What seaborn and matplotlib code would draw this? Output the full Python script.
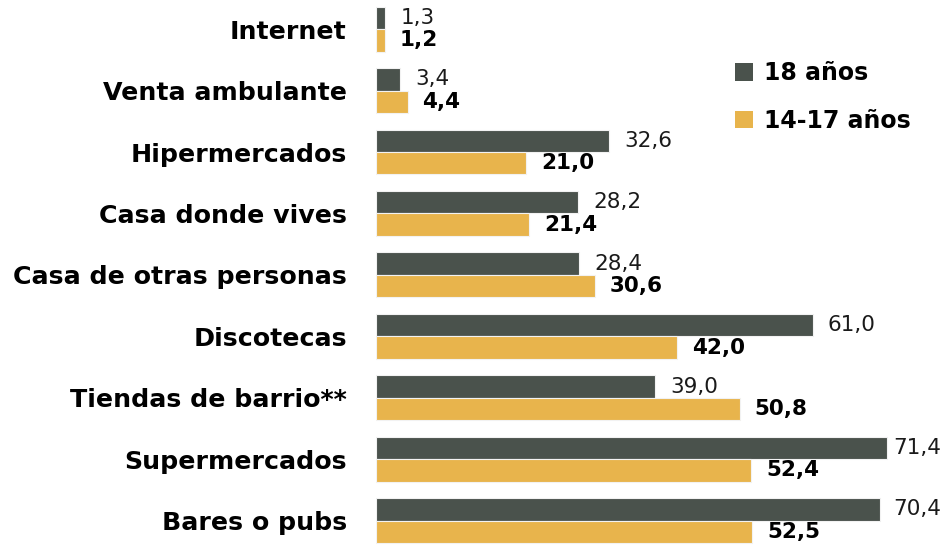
import pandas as pd
import seaborn as sns
import matplotlib.pyplot as plt
from matplotlib.patches import Patch

categories = ["Internet", "Venta ambulante", "Hipermercados", "Casa donde vives",
              "Casa de otras personas", "Discotecas", "Tiendas de barrio**",
              "Supermercados", "Bares o pubs"]
series_names = ["18 años", "14-17 años"]
vals_18 = [1.3, 3.4, 32.6, 28.2, 28.4, 61.0, 39.0, 71.4, 70.4]
vals_14_17 = [1.2, 4.4, 21.0, 21.4, 30.6, 42.0, 50.8, 52.4, 52.5]
colors = ["#4a524c", "#e8b44c"]

df = pd.DataFrame({
    "Lugar": categories * 2,
    "Valor": vals_18 + vals_14_17,
    "Edad": [series_names[0]] * len(categories) + [series_names[1]] * len(categories),
})

sns.set_style("white")
plt.rcParams['font.family'] = ['DejaVu Sans']

fig = plt.figure(figsize=(9.43, 5.47), dpi=100)
ax = fig.add_axes([376 / 943, 0, 1 - 376 / 943, 1])

sns.barplot(data=df, y="Lugar", x="Valor", hue="Edad", orient="h",
            palette=colors, saturation=1, width=0.73, edgecolor="#f2f2f2",
            linewidth=0.8, ax=ax, legend=False)

ax.set_xlim(0, 79.2)
ax.set_ylim(8.43, -0.475)
ax.set_xlabel("")
ax.set_ylabel("")
ax.set_xticks([])
ax.tick_params(axis="y", length=0, pad=21)
for lab in ax.get_yticklabels():
    lab.set_fontsize(18.2)
    lab.set_fontweight("bold")
    lab.set_color("black")
sns.despine(ax=ax, left=True, bottom=True, top=True, right=True)

# value labels
for cont, vals, weight in zip(ax.containers, [vals_18, vals_14_17], ["normal", "bold"]):
    for bar, v in zip(cont, vals):
        y = bar.get_y() + bar.get_height() / 2
        x = min(v + 2.1, 72.3)
        ax.text(x, y, f"{v:.1f}".replace(".", ","), va="center", ha="left",
                fontsize=15.5, fontweight=weight,
                color="#1a1a1a" if weight == "normal" else "black")

handles = [Patch(facecolor=c, edgecolor="none") for c in colors]
leg = fig.legend(handles, series_names, loc="upper left",
                 bbox_to_anchor=(714 / 943, 1 - 40 / 547),
                 frameon=False, prop={"size": 17, "weight": "bold"}, handlelength=0.75,
                 handleheight=0.75, handletextpad=0.45, labelspacing=1.0)
for t in leg.get_texts():
    t.set_color("black")

fig.savefig("out.png", dpi=100)
